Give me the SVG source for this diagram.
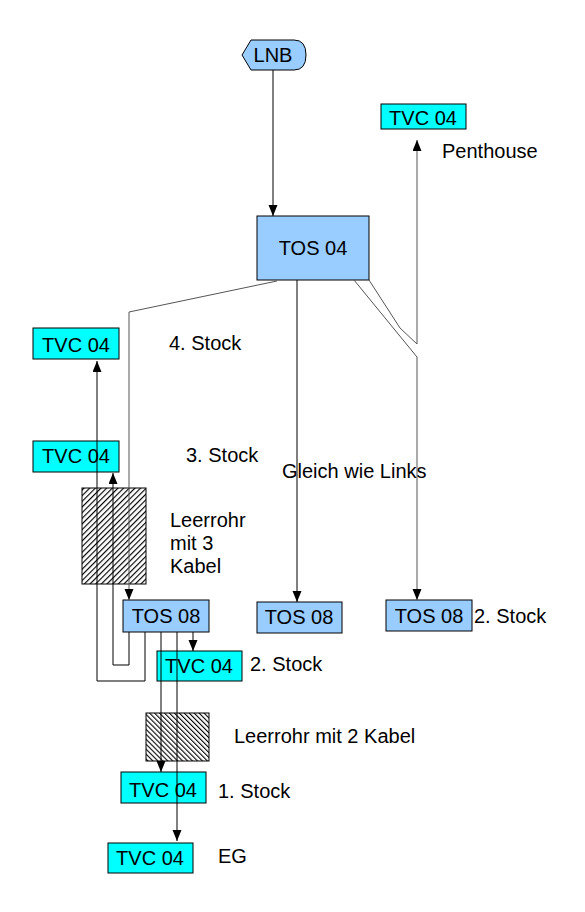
<svg xmlns="http://www.w3.org/2000/svg" width="585" height="912" viewBox="0 0 585 912">
<style>
text{font-family:"Liberation Sans",Arial,sans-serif;font-size:20px;fill:#000}
.c{text-anchor:middle}
.tos{fill:#99CCFF;stroke:#000;stroke-width:1}
.tvc{fill:#00FFFF;stroke:#000;stroke-width:1}
.ln{fill:none;stroke:#000;stroke-width:1}
.lg{fill:none;stroke:#555;stroke-width:1}
</style>
<defs>
<marker id="ah" markerUnits="userSpaceOnUse" markerWidth="12" markerHeight="10" refX="11" refY="4.5" orient="auto">
<path d="M0,0 L11,4.5 L0,9 Z" fill="#000"/>
</marker>
<pattern id="h1" patternUnits="userSpaceOnUse" width="4" height="4" patternTransform="rotate(45)">
<rect width="4" height="4" fill="#fff"/>
<line x1="0.5" y1="0" x2="0.5" y2="4" stroke="#000" stroke-width="1.3"/>
</pattern>
<pattern id="h2" patternUnits="userSpaceOnUse" width="3.5" height="3.5" patternTransform="rotate(-45)">
<rect width="3.5" height="3.5" fill="#fff"/>
<line x1="0.5" y1="0" x2="0.5" y2="3.5" stroke="#000" stroke-width="1.2"/>
</pattern>
</defs>
<rect width="585" height="912" fill="#fff"/>

<g id="lnb">
<path d="M242,55 L251,40 H294 Q306,40 306,55 Q306,70 294,70 H251 Z" class="tos"/>
<text x="273" y="62" class="c">LNB</text>
</g>
<g id="tos04">
<rect x="257" y="216" width="112" height="64" class="tos"/>
<text x="313" y="255" class="c">TOS 04</text>
</g>
<g id="tvc-penthouse">
<rect x="381" y="104" width="85" height="25" class="tvc"/>
<text x="423" y="125" class="c">TVC 04</text>
<text x="442" y="158">Penthouse</text>
</g>
<g id="tvc-4stock">
<rect x="33" y="328" width="86" height="31" class="tvc"/>
<text x="76" y="352" class="c">TVC 04</text>
<text x="169" y="350">4. Stock</text>
</g>
<g id="tvc-3stock">
<rect x="33" y="441" width="86" height="31" class="tvc"/>
<text x="76" y="463" class="c">TVC 04</text>
<text x="186" y="462">3. Stock</text>
</g>
<g id="leerrohr3">
<rect x="82" y="488" width="64" height="96" fill="url(#h1)" stroke="#000"/>
<text x="170" y="527">Leerrohr</text>
<text x="170" y="550">mit 3</text>
<text x="170" y="573">Kabel</text>
</g>
<g id="tos08-left">
<rect x="123" y="600" width="86" height="32" class="tos"/>
<text x="166" y="623" class="c">TOS 08</text>
</g>
<g id="tos08-mid">
<rect x="257" y="602" width="85" height="31" class="tos"/>
<text x="299" y="624" class="c">TOS 08</text>
<text x="282" y="478">Gleich wie Links</text>
</g>
<g id="tos08-right">
<rect x="386" y="600" width="86" height="31" class="tos"/>
<text x="429" y="623" class="c">TOS 08</text>
<text x="474" y="623">2. Stock</text>
</g>
<g id="tvc-2stock">
<rect x="157" y="651" width="85" height="30" class="tvc"/>
<text x="199" y="673" class="c">TVC 04</text>
<text x="250" y="671">2. Stock</text>
</g>
<g id="leerrohr2">
<rect x="146" y="713" width="63" height="48" fill="url(#h2)" stroke="#000"/>
<text x="234" y="743">Leerrohr mit 2 Kabel</text>
</g>
<g id="tvc-1stock">
<rect x="121" y="772" width="85" height="31" class="tvc"/>
<text x="163" y="797" class="c">TVC 04</text>
<text x="218" y="798">1. Stock</text>
</g>
<g id="tvc-eg">
<rect x="108" y="843" width="85" height="30" class="tvc"/>
<text x="150" y="865" class="c">TVC 04</text>
<text x="218" y="863">EG</text>
</g>

<g id="connectors">
<path d="M273,70 V216" class="ln" marker-end="url(#ah)"/>
<path d="M277,281 L129,312 V600" class="lg" marker-end="url(#ah)"/>
<path d="M297,280 V602" class="ln" marker-end="url(#ah)"/>
<path d="M369,280 L400,328 L417,344 V140" class="lg" marker-end="url(#ah)"/>
<path d="M354,280 L417,357 V600" class="lg" marker-end="url(#ah)"/>
<path d="M145,632 V681 H97 V361" class="ln" marker-end="url(#ah)"/>
<path d="M129,632 V665 H113 V473" class="ln" marker-end="url(#ah)"/>
<path d="M193,632 V651" class="ln" marker-end="url(#ah)"/>
<path d="M161,632 V772" class="ln" marker-end="url(#ah)"/>
<path d="M177,632 V841" class="ln" marker-end="url(#ah)"/>
</g>
</svg>
